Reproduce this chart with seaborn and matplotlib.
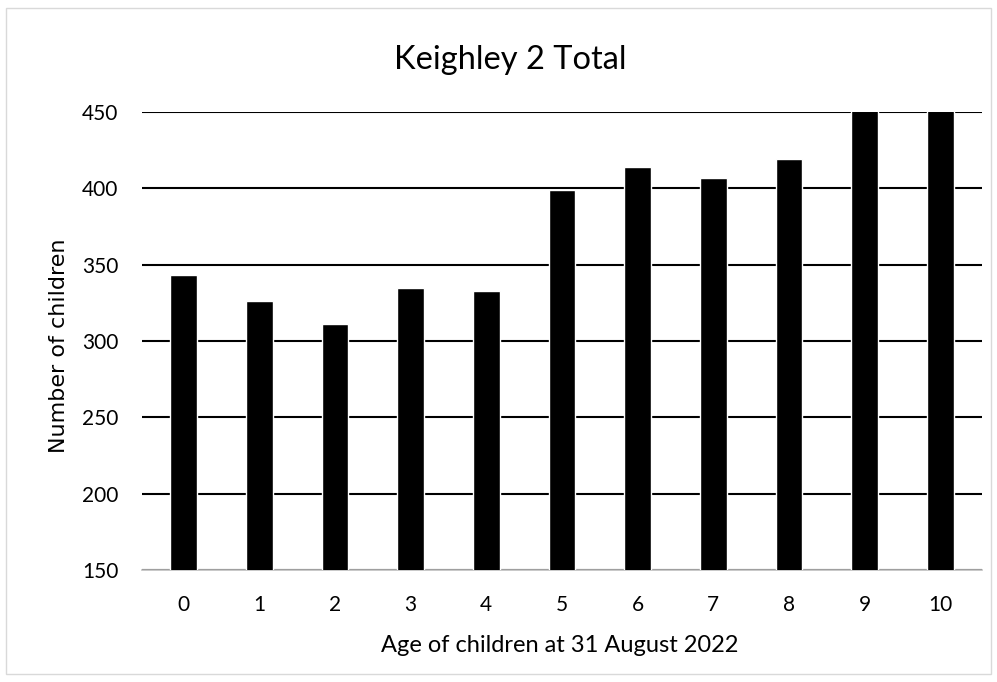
import pandas as pd
import matplotlib.pyplot as plt
import seaborn as sns
from matplotlib.patches import Rectangle

# Data (ages 9 and 10 run past the top of the axis)
ages = ["0", "1", "2", "3", "4", "5", "6", "7", "8", "9", "10"]
children = [343, 326, 311, 335, 333, 399, 414, 407, 419, 458, 456]

df = pd.DataFrame({"age": ages, "children": children})

sns.set_style("white")
plt.rcParams['font.family'] = ['Lato', 'DejaVu Sans']
plt.rcParams['text.color'] = 'black'

fig = plt.figure(figsize=(9.97, 6.82), dpi=100)
ax = fig.add_axes([0.1424, 0.164, 0.8426, 0.672])

sns.barplot(data=df, x="age", y="children", color="black", width=0.35,
            saturation=1, ax=ax, zorder=3)

ax.set_ylim(150, 450)
ax.set_yticks([150, 200, 250, 300, 350, 400, 450])
ax.set_xlim(-0.55, 10.55)
ax.yaxis.grid(True, color="black", linewidth=1.5, zorder=0)
ax.set_axisbelow(True)
for s in ["top", "right", "left"]:
    ax.spines[s].set_visible(False)
ax.spines["bottom"].set_color("#bfbfbf")
ax.spines["bottom"].set_linewidth(1.2)
ax.tick_params(axis="both", length=0, labelsize=15, colors="black")
ax.tick_params(axis="y", pad=17)
ax.tick_params(axis="x", pad=18)

ax.set_xlabel("Age of children at 31 August 2022", fontsize=17, color="black")
ax.xaxis.set_label_coords(0.497, -0.164)
ax.xaxis.label.set_va("center")
ax.set_ylabel("Number of children", fontsize=16, family="DejaVu Sans", color="black")
ax.yaxis.set_label_coords(-0.0988, 0.489)
ax.yaxis.label.set_va("center")

fig.text(0.512, 0.912, "Keighley 2 Total", ha="center", va="center", fontsize=23.5)

# light outer frame of the chart area
fig.patches.append(Rectangle((0.006, 0.011), 0.988, 0.977, transform=fig.transFigure,
                             fill=False, edgecolor="#d9d9d9", linewidth=1))

fig.savefig("out.png", dpi=100)
